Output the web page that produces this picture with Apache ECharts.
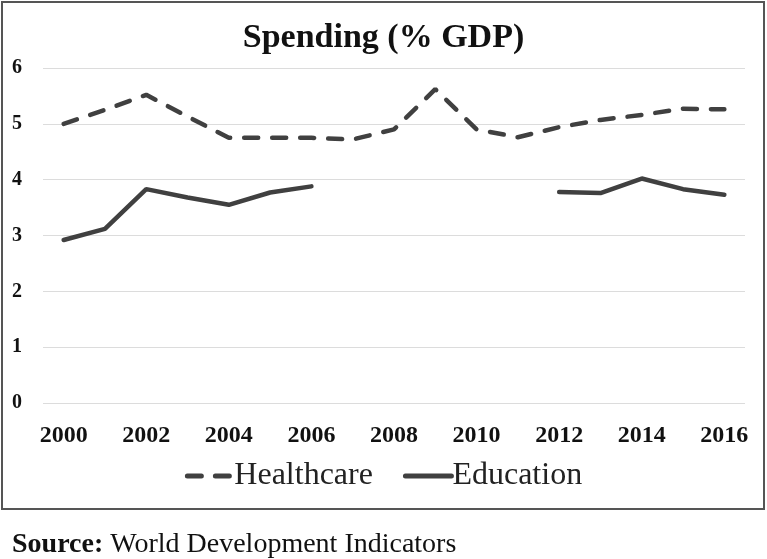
<!DOCTYPE html>
<html><head><meta charset="utf-8">
<script src="https://cdn.jsdelivr.net/npm/echarts@6/dist/echarts.min.js"></script>
<style>html,body{margin:0;padding:0;background:#fff}#c{width:767px;height:559px}</style>
</head><body><div id="c"></div>
<script>
const years = ['2000','2001','2002','2003','2004','2005','2006','2007','2008','2009','2010','2011','2012','2013','2014','2015','2016'];
const healthcare = [5.0, 5.25, 5.52, 5.13, 4.75, 4.75, 4.75, 4.72, 4.9, 5.62, 4.9, 4.76, 4.94, 5.07, 5.16, 5.27, 5.26];
const education = [2.92, 3.12, 3.83, 3.68, 3.55, 3.77, 3.88, null, null, null, null, null, 3.78, 3.76, 4.02, 3.83, 3.73];
const yTicks = [0, 6, 1];
const FONT = '"Liberation Serif", "DejaVu Serif", serif';
const INK = '#404040';
const chart = echarts.init(document.getElementById('c'), null, {renderer: 'canvas'});
chart.setOption({
  animation: false,
  backgroundColor: '#fff',
  textStyle: {fontFamily: FONT},
  title: {
    text: 'Spending (% GDP)', left: 'center', top: 16,
    textStyle: {fontFamily: FONT, fontWeight: 'bold', fontSize: 34, color: '#111'}
  },
  grid: {left: 43, right: 22, top: 68, bottom: 156, containLabel: false},
  legend: {
    bottom: 62, left: 'center', itemWidth: 46, itemHeight: 14, itemGap: 30,
    lineStyle: {width: 5},
    itemStyle: {opacity: 0},
    textStyle: {fontFamily: FONT, fontSize: 32, color: '#222', padding: [0,0,0,-4]},
    data: ['Healthcare', 'Education']
  },
  xAxis: {
    type: 'category', data: years, boundaryGap: true,
    axisLine: {show: false}, axisTick: {show: false},
    axisLabel: {interval: 1, fontFamily: FONT, fontWeight: 'bold', fontSize: 24, color: '#111', margin: 21}
  },
  yAxis: {
    type: 'value', min: yTicks[0], max: yTicks[1], interval: yTicks[2],
    axisLine: {show: false}, axisTick: {show: false},
    axisLabel: {fontFamily: FONT, fontWeight: 'bold', fontSize: 20, color: '#111', margin: 26, align: 'center'},
    splitLine: {lineStyle: {color: '#dcdcdc', width: 1}}
  },
  series: [
    {name: 'Healthcare', type: 'line', data: healthcare, symbol: 'none',
     lineStyle: {color: INK, width: 4.5, type: [14, 14], cap: 'round'}, itemStyle: {color: INK}},
    {name: 'Education', type: 'line', data: education, symbol: 'none', connectNulls: false,
     lineStyle: {color: INK, width: 4.5, cap: 'round'}, itemStyle: {color: INK}}
  ],
  graphic: [
    {type: 'rect', shape: {x: 2, y: 2, width: 762, height: 507}, style: {fill: 'none', stroke: '#555', lineWidth: 2}, silent: true},
    {type: 'text', left: 12, top: 531, style: {rich: {b: {fontFamily: FONT, fontWeight: 'bold', fontSize: 28, fill: '#111'}, n: {fontFamily: FONT, fontSize: 28, fill: '#111'}}, text: '{b|Source:}{n| World Development Indicators}'}}
  ]
});
</script></body></html>
